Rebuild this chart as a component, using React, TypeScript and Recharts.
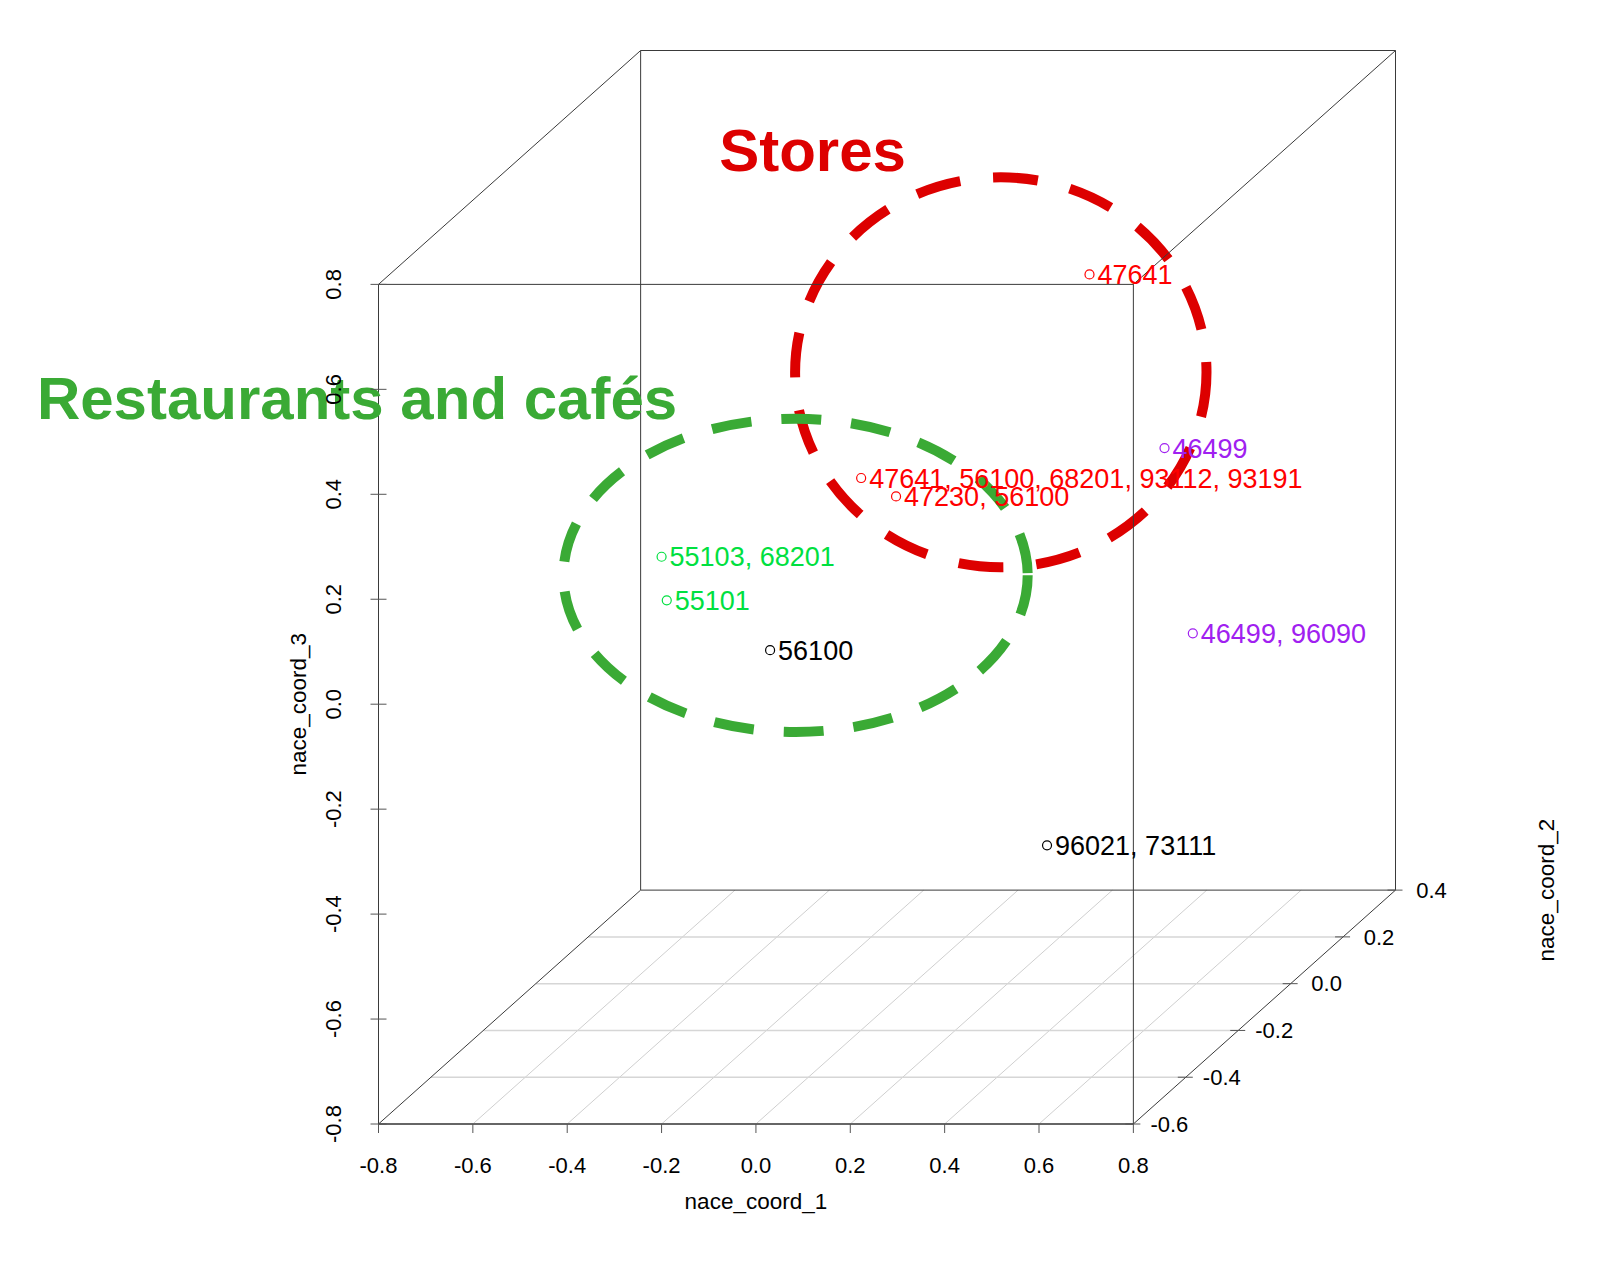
import React from 'react';
import {
  ScatterChart,
  Scatter,
  XAxis,
  YAxis,
  ReferenceLine,
  ReferenceDot,
  ReferenceArea,
} from 'recharts';

// ---- axis ranges and ticks ----
const xRange = [-0.8, 0.8]; // nace_coord_1
const yRange = [-0.6, 0.4]; // nace_coord_2 (depth)
const zRange = [-0.8, 0.8]; // nace_coord_3
const xTicks = [-0.8, -0.6, -0.4, -0.2, 0, 0.2, 0.4, 0.6, 0.8];
const yTicks = [-0.6, -0.4, -0.2, 0, 0.2, 0.4];
const zTicks = [-0.8, -0.6, -0.4, -0.2, 0, 0.2, 0.4, 0.6, 0.8];
const floorXGrid = [-0.6, -0.4, -0.2, 0, 0.2, 0.4, 0.6];
const floorYGrid = [-0.4, -0.2, 0, 0.2];

// ---- points (positions read against the front-face axes) ----
const pointLabels = [
  '47641',
  '46499',
  '47641, 56100, 68201, 93112, 93191',
  '47230, 56100',
  '55103, 68201',
  '55101',
  '56100',
  '46499, 96090',
  '96021, 73111',
];
const pointX = [0.707, 0.866, 0.223, 0.297, -0.2, -0.189, 0.03, 0.926, 0.617];
const pointZ = [0.819, 0.488, 0.431, 0.396, 0.281, 0.198, 0.103, 0.135, -0.269];
const pointColors = [
  '#ff0000',
  '#a020f0',
  '#ff0000',
  '#ff0000',
  '#00e040',
  '#00e040',
  '#000000',
  '#a020f0',
  '#000000',
];

// ---- cluster annotations ----
const clusterNames = ['Stores', 'Restaurants and cafés'];
const clusterColors = ['#dd0000', '#3aaa35'];
const clusterX = [
  [0.083, 0.955],
  [-0.408, 0.576],
];
const clusterZ = [
  [0.261, 1.004],
  [-0.053, 0.544],
];
const clusterTitleX = [-0.078, -1.524];
const clusterTitleZ = [1.017, 0.543];
const clusterDash = ['45 33', '40 30'];

// ---- oblique projection (scatterplot3d-like) ----
const KX = 0.5556;
const KZ = 0.4457;
const proj = (x: number, y: number, z: number) => ({
  x: x + (y - yRange[0]) * KX,
  y: z + (y - yRange[0]) * KZ,
});
const X_MAX = xRange[1] + (yRange[1] - yRange[0]) * KX;
const Z_MAX = zRange[1] + (yRange[1] - yRange[0]) * KZ;

const points = pointLabels.map((label, i) => ({
  x: pointX[i],
  z: pointZ[i],
  label,
  color: pointColors[i],
}));

// box corners & edges
const corners: Record<string, { x: number; y: number }> = {};
['0', '1'].forEach((a) =>
  ['0', '1'].forEach((b) =>
    ['0', '1'].forEach((c) => {
      corners[a + b + c] = proj(xRange[+a], yRange[+b], zRange[+c]);
    })
  )
);
const edges: [string, string][] = [
  ['000', '100'],
  ['001', '101'],
  ['010', '110'],
  ['011', '111'],
  ['000', '001'],
  ['100', '101'],
  ['010', '011'],
  ['110', '111'],
  ['000', '010'],
  ['100', '110'],
  ['001', '011'],
  ['101', '111'],
];

const FONT = '"Liberation Sans", Arial, Helvetica, sans-serif';
const TICK_FS = 22;
const TITLE_FS = 22.5;

const ZTick = (props: any) => {
  const { x, y, payload } = props;
  const tx = x - 37.5;
  return (
    <g>
      <line x1={x - 8} x2={x + 8} y1={y} y2={y} stroke="#555" strokeWidth={1} />
      <text
        x={tx}
        y={y}
        transform={`rotate(-90, ${tx}, ${y})`}
        textAnchor="middle"
        fontSize={TICK_FS}
        fill="#000"
        fontFamily={FONT}
      >
        {Number(payload.value).toFixed(1)}
      </text>
    </g>
  );
};

const PointMark = (props: any) => {
  const { cx, cy } = props;
  const p = props.payload ?? props;
  if (cx == null || cy == null) return null;
  return (
    <g>
      <circle cx={cx} cy={cy} r={4.5} fill="none" stroke={p.color} strokeWidth={1.2} />
      <text x={cx + 8} y={cy + 9.7} fontSize={27} fill={p.color} fontFamily={FONT}>
        {p.label}
      </text>
    </g>
  );
};

const makeEllipse = (color: string, dash: string) => (props: any) => {
  const { x, y, width, height } = props;
  return (
    <ellipse
      cx={x + width / 2}
      cy={y + height / 2}
      rx={Math.abs(width) / 2}
      ry={Math.abs(height) / 2}
      fill="none"
      stroke={color}
      strokeWidth={10}
      strokeDasharray={dash}
    />
  );
};

export default function App() {
  return (
    <div
      style={{
        position: 'absolute',
        left: 0,
        top: 0,
        width: 1600,
        height: 1264,
        background: '#fff',
        fontFamily: FONT,
      }}
    >
      <ScatterChart
        width={1600}
        height={1264}
        margin={{ top: 50.5, right: 204.5, bottom: 100, left: 278.5 }}
      >
        <XAxis
          type="number"
          dataKey="x"
          domain={[xRange[0], X_MAX]}
          ticks={xTicks}
          interval={0}
          tickSize={9}
          tickMargin={24}
          axisLine={false}
          tickLine={{ stroke: '#555' }}
          tick={{ fontSize: TICK_FS, fill: '#000', fontFamily: FONT }}
          tickFormatter={(v: number) => v.toFixed(1)}
          height={40}
        />
        <YAxis
          type="number"
          dataKey="z"
          domain={[zRange[0], Z_MAX]}
          ticks={zTicks}
          interval={0}
          tickSize={0}
          tickMargin={0}
          axisLine={false}
          tickLine={false}
          tick={<ZTick />}
          width={100}
        />

        {/* floor grid */}
        {floorXGrid.map((gx) => {
          const a = proj(gx, yRange[0], zRange[0]);
          const b = proj(gx, yRange[1], zRange[0]);
          return (
            <ReferenceLine
              key={'gx' + gx}
              segment={[a, b]}
              stroke="#cfcfcf"
              strokeWidth={1}
              ifOverflow="visible"
            />
          );
        })}
        {floorYGrid.map((gy) => {
          const a = proj(xRange[0], gy, zRange[0]);
          const b = proj(xRange[1], gy, zRange[0]);
          return (
            <ReferenceLine
              key={'gy' + gy}
              segment={[a, b]}
              stroke="#d6d6d6"
              strokeWidth={1.5}
              ifOverflow="visible"
            />
          );
        })}

        {/* box */}
        {edges.map(([p, q]) => (
          <ReferenceLine
            key={p + q}
            segment={[corners[p], corners[q]]}
            stroke={p === '000' && q === '100' ? '#666' : '#3a3a3a'}
            strokeWidth={p === '000' && q === '100' ? 2 : 1}
            ifOverflow="visible"
          />
        ))}

        {/* depth axis ticks and labels */}
        {yTicks.map((t) => {
          const c = proj(xRange[1], t, zRange[0]);
          return (
            <ReferenceDot
              key={'yt' + t}
              x={c.x}
              y={c.y}
              r={1}
              ifOverflow="visible"
              shape={(p: any) => (
                <g>
                  <line x1={p.cx - 8} x2={p.cx + 7} y1={p.cy} y2={p.cy} stroke="#555" />
                  <text
                    x={p.cx + 36}
                    y={p.cy + 7.8}
                    textAnchor="middle"
                    fontSize={TICK_FS}
                    fill="#000"
                    fontFamily={FONT}
                  >
                    {t.toFixed(1)}
                  </text>
                </g>
              )}
            />
          );
        })}

        {/* axis titles */}
        <ReferenceDot
          x={0}
          y={zRange[0]}
          r={1}
          ifOverflow="visible"
          shape={(p: any) => (
            <text x={p.cx} y={p.cy + 85} textAnchor="middle" fontSize={TITLE_FS} fill="#000" fontFamily={FONT}>
              nace_coord_1
            </text>
          )}
        />
        <ReferenceDot
          x={xRange[0]}
          y={0}
          r={1}
          ifOverflow="visible"
          shape={(p: any) => (
            <text
              x={p.cx - 72.5}
              y={p.cy}
              transform={`rotate(-90, ${p.cx - 72.5}, ${p.cy})`}
              textAnchor="middle"
              fontSize={TITLE_FS}
              fill="#000"
              fontFamily={FONT}
            >
              nace_coord_3
            </text>
          )}
        />
        <ReferenceDot
          x={corners['110'].x}
          y={corners['110'].y}
          r={1}
          ifOverflow="visible"
          shape={(p: any) => (
            <text
              x={p.cx + 158.5}
              y={p.cy}
              transform={`rotate(-90, ${p.cx + 158.5}, ${p.cy})`}
              textAnchor="middle"
              fontSize={TITLE_FS}
              fill="#000"
              fontFamily={FONT}
            >
              nace_coord_2
            </text>
          )}
        />

        <Scatter data={points} shape={<PointMark />} isAnimationActive={false} />

        {/* cluster ellipses */}
        {clusterNames.map((n, i) => (
          <ReferenceArea
            key={'ell' + n}
            x1={clusterX[i][0]}
            x2={clusterX[i][1]}
            y1={clusterZ[i][0]}
            y2={clusterZ[i][1]}
            ifOverflow="visible"
            shape={makeEllipse(clusterColors[i], clusterDash[i])}
          />
        ))}

        {/* cluster titles */}
        {clusterNames.map((n, i) => (
          <ReferenceDot
            key={'title' + n}
            x={clusterTitleX[i]}
            y={clusterTitleZ[i]}
            r={1}
            ifOverflow="visible"
            shape={(p: any) => (
              <text
                x={p.cx}
                y={p.cy}
                fontSize={60}
                fontWeight="bold"
                fill={clusterColors[i]}
                fontFamily={FONT}
              >
                {n}
              </text>
            )}
          />
        ))}
      </ScatterChart>
    </div>
  );
}
